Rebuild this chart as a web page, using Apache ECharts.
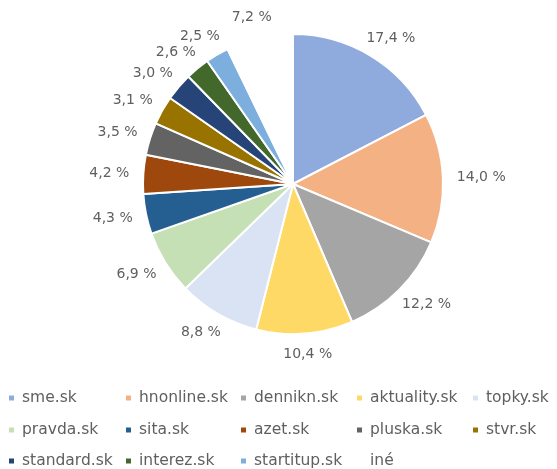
<!DOCTYPE html>
<html><head><meta charset="utf-8">
<script src="https://cdn.jsdelivr.net/npm/echarts@6/dist/echarts.min.js"></script>
<style>html,body{margin:0;padding:0;background:#fff}#c{width:557px;height:469px}</style>
</head><body><div id="c"></div>
<script>
const categories = ['sme.sk','hnonline.sk','dennikn.sk','aktuality.sk','topky.sk','pravda.sk','sita.sk','azet.sk','pluska.sk','stvr.sk','standard.sk','interez.sk','startitup.sk','iné'];
const values = [17.4,14.0,12.2,10.4,8.8,6.9,4.3,4.2,3.5,3.1,3.0,2.6,2.5,7.2];
const colors = ['#8FAADC','#F4B183','#A5A5A5','#FFD966','#DAE3F3','#C5E0B4','#255E91','#9E480E','#636363','#997300','#264478','#43682B','#7CAFDD','#FFFFFF'];

const FONT = '"DejaVu Sans", sans-serif';
const TXT = '#5f5f5f';
const CX = 293, CY = 184, R = 150;
const colX = [9,126,241,357,473];
const rowY = [398,430,461];

const total = values.reduce((a,b)=>a+b,0);
const cum = []; values.reduce((a,v,i)=>{cum[i]=a; return a+v;},0);

const legends = categories.map((c,i)=>({
  data: [c], orient:'horizontal', left: colX[i%5], top: rowY[Math.floor(i/5)] - 9,
  padding: 0, itemWidth: 5, itemHeight: 5, icon: 'rect',
  itemStyle: {borderWidth: 0},
  selectedMode: false,
  textStyle: {color: TXT, fontSize: 15.5, fontFamily: FONT, lineHeight: 18, padding:[0,0,0,3]}
}));

const chart = echarts.init(document.getElementById('c'));
chart.setOption({
  animation: false,
  color: colors,
  legend: legends,
  series: [{
    type: 'pie',
    center: [CX, CY],
    radius: [0, R],
    startAngle: 90,
    clockwise: true,
    avoidLabelOverlap: false,
    itemStyle: {borderColor:'#fff', borderWidth:2},
    label: {
      show: true, position: 'outside',
      formatter: p => p.value.toFixed(1).replace('.', ',') + ' %',
      color: TXT, fontSize: 14, fontFamily: FONT
    },
    labelLine: {show:false},
    labelLayout: function (p) {
      const i = p.dataIndex;
      const a = (cum[i] + values[i]/2) / total * Math.PI * 2;
      const dx = Math.sin(a), dy = -Math.cos(a);
      const w = p.labelRect.width/2, h = p.labelRect.height/2;
      const d = R + 14;
      return {x: CX + d*dx + w*dx, y: CY + d*dy + h*dy, align:'center', verticalAlign:'middle'};
    },
    emphasis: {disabled: true},
    data: categories.map((c,i)=>({name:c, value:values[i], itemStyle:{color:colors[i]}}))
  }]
});
</script></body></html>
